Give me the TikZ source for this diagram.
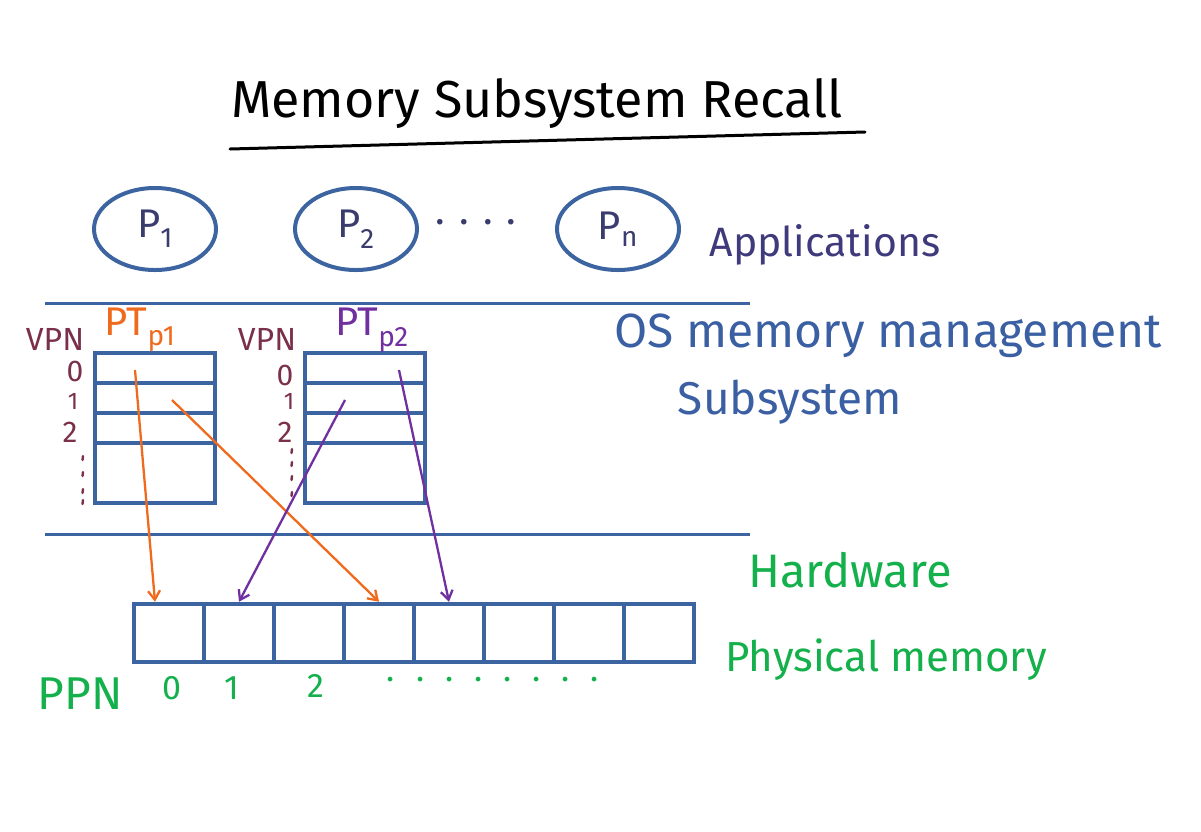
\documentclass[tikz,border=0pt]{standalone}
\usepackage{fontspec}
\setmainfont{Fira Sans}
\usetikzlibrary{shapes.geometric,arrows.meta,calc}
\definecolor{lblue}{HTML}{3C64A0}
\definecolor{navy}{HTML}{3A3C6E}
\definecolor{appc}{HTML}{3F3A7C}
\definecolor{osc}{HTML}{3A5FA2}
\definecolor{orng}{HTML}{F06A1E}
\definecolor{purp}{HTML}{7030A0}
\definecolor{maroon}{HTML}{7A2F4B}
\definecolor{grn}{HTML}{14B04C}
\newcommand{\fs}[1]{\fontsize{#1}{#1}\selectfont}
\begin{document}
\begin{tikzpicture}[x=1pt,y=-1pt,
  proc/.style={ellipse,draw=lblue,line width=4,minimum width=122,minimum height=82,inner sep=0,text=navy,font=\fs{40}},
  ptrow/.style={rectangle,draw=lblue,line width=4.5,minimum width=120,inner sep=0},
  mcell/.style={rectangle,draw=lblue,line width=4.5,minimum width=70,minimum height=58,inner sep=0},
  sep/.style={draw=lblue,line width=3},
  vpn/.style={text=maroon,inner sep=0},
  map/.style={line width=2.3,-{Straight Barb[length=9,width=12,line width=2.3]}},
  green/.style={text=grn,inner sep=0}]
\useasboundingbox (0,0) rectangle (1201,831);

% title
\node[inner sep=0] (title) at (537,104) {\fs{52}Memory Subsystem Recall};
\coordinate (ul1) at (230,149);
\coordinate (ul2) at (865,132);
\draw[line width=3,line cap=round] (ul1) -- (ul2);

% processes
\node[proc] (p1) at (155,229) {P\textsubscript{1}};
\node[proc] (p2) at (356,229) {P\textsubscript{2}};
\node[proc] (pn) at (618,229) {P\textsubscript{n}};
\node[text=navy,inner sep=0] (dots) at (476,222) {\fs{40}. . . .};
\node[text=appc,inner sep=0] (apps) at (825,245) {\fs{41}Applications};

% separators
\coordinate (s1a) at (45,303);
\coordinate (s1b) at (750,303);
\coordinate (s2a) at (45,534);
\coordinate (s2b) at (750,534);
\draw[sep] (s1a) -- (s1b);
\draw[sep] (s2a) -- (s2b);

% OS labels
\node[text=osc,inner sep=0] (os) at (888,336) {\fs{48}OS memory management};
\node[text=osc,inner sep=0] (subsys) at (790,402) {\fs{46}Subsystem};

% page table 1
\node[ptrow,minimum height=30] (a0) at (155,368) {};
\node[ptrow,minimum height=30] (a1) at (155,398) {};
\node[ptrow,minimum height=30] (a2) at (155,428) {};
\node[ptrow,minimum height=60] (a3) at (155,473) {};
% page table 2
\node[ptrow,minimum height=30] (b0) at (365,368) {};
\node[ptrow,minimum height=30] (b1) at (365,398) {};
\node[ptrow,minimum height=30] (b2) at (365,428) {};
\node[ptrow,minimum height=60] (b3) at (365,473) {};

% PT labels
\node[text=orng,inner sep=0] (pt1) at (140,330) {\fs{40}PT\textsubscript{p1}};
\node[text=purp,inner sep=0] (pt2) at (372,330) {\fs{40}PT\textsubscript{p2}};

% VPN labels
\node[vpn] (vpn1) at (55,339) {\fs{32}VPN};
\node[vpn] (vpn2) at (267,339) {\fs{32}VPN};
\node[vpn] (v10) at (75,371) {\fs{30}0};
\node[vpn] (v11) at (73,401) {\fs{24}1};
\node[vpn] (v12) at (70,432) {\fs{30}2};
\node[vpn] (v20) at (285,375) {\fs{30}0};
\node[vpn] (v21) at (289,401) {\fs{24}1};
\node[vpn] (v22) at (285,432) {\fs{30}2};
\foreach \yy in {458,474,491,502}{
  \draw[maroon,line width=2.4,line cap=round] (83,\yy-2) -- (82.5,\yy+2);
}
\foreach \yy in {451,464,478,494}{
  \draw[maroon,line width=2.4,line cap=round] (292,\yy-2) -- (291.5,\yy+2);
}

% physical memory
\foreach \i in {0,...,7}{
  \node[mcell] (m\i) at (169+70*\i,633) {};
}

% mappings
\coordinate (sa0) at (135,370);
\coordinate (sa1) at (172,400);
\coordinate (sb1) at (345,400);
\coordinate (sb0) at (399,370);
\draw[map,orng] (sa0) -- ($(m0.north)+(-14,0)$);
\draw[map,orng] (sa1) -- (m3.north);
\draw[map,purp] (sb1) -- (m1.north);
\draw[map,purp] (sb0) -- (m4.north);

% hardware labels
\node[green] (hw) at (850,570) {\fs{47}Hardware};
\node[green] (phys) at (886,660) {\fs{42}Physical memory};
\node[green] (ppn) at (80,694) {\fs{46}PPN};
\node[green] (n0) at (172,688) {\fs{34}0};
\node[green] (n1) at (232,688) {\fs{34}1};
\node[green] (n2) at (316,686) {\fs{34}2};
\node[green] (ndots) at (493,680) {\fs{34}.\hspace{21pt}.\hspace{21pt}.\hspace{21pt}.\hspace{21pt}.\hspace{21pt}.\hspace{21pt}.\hspace{21pt}.};
\end{tikzpicture}
\end{document}
